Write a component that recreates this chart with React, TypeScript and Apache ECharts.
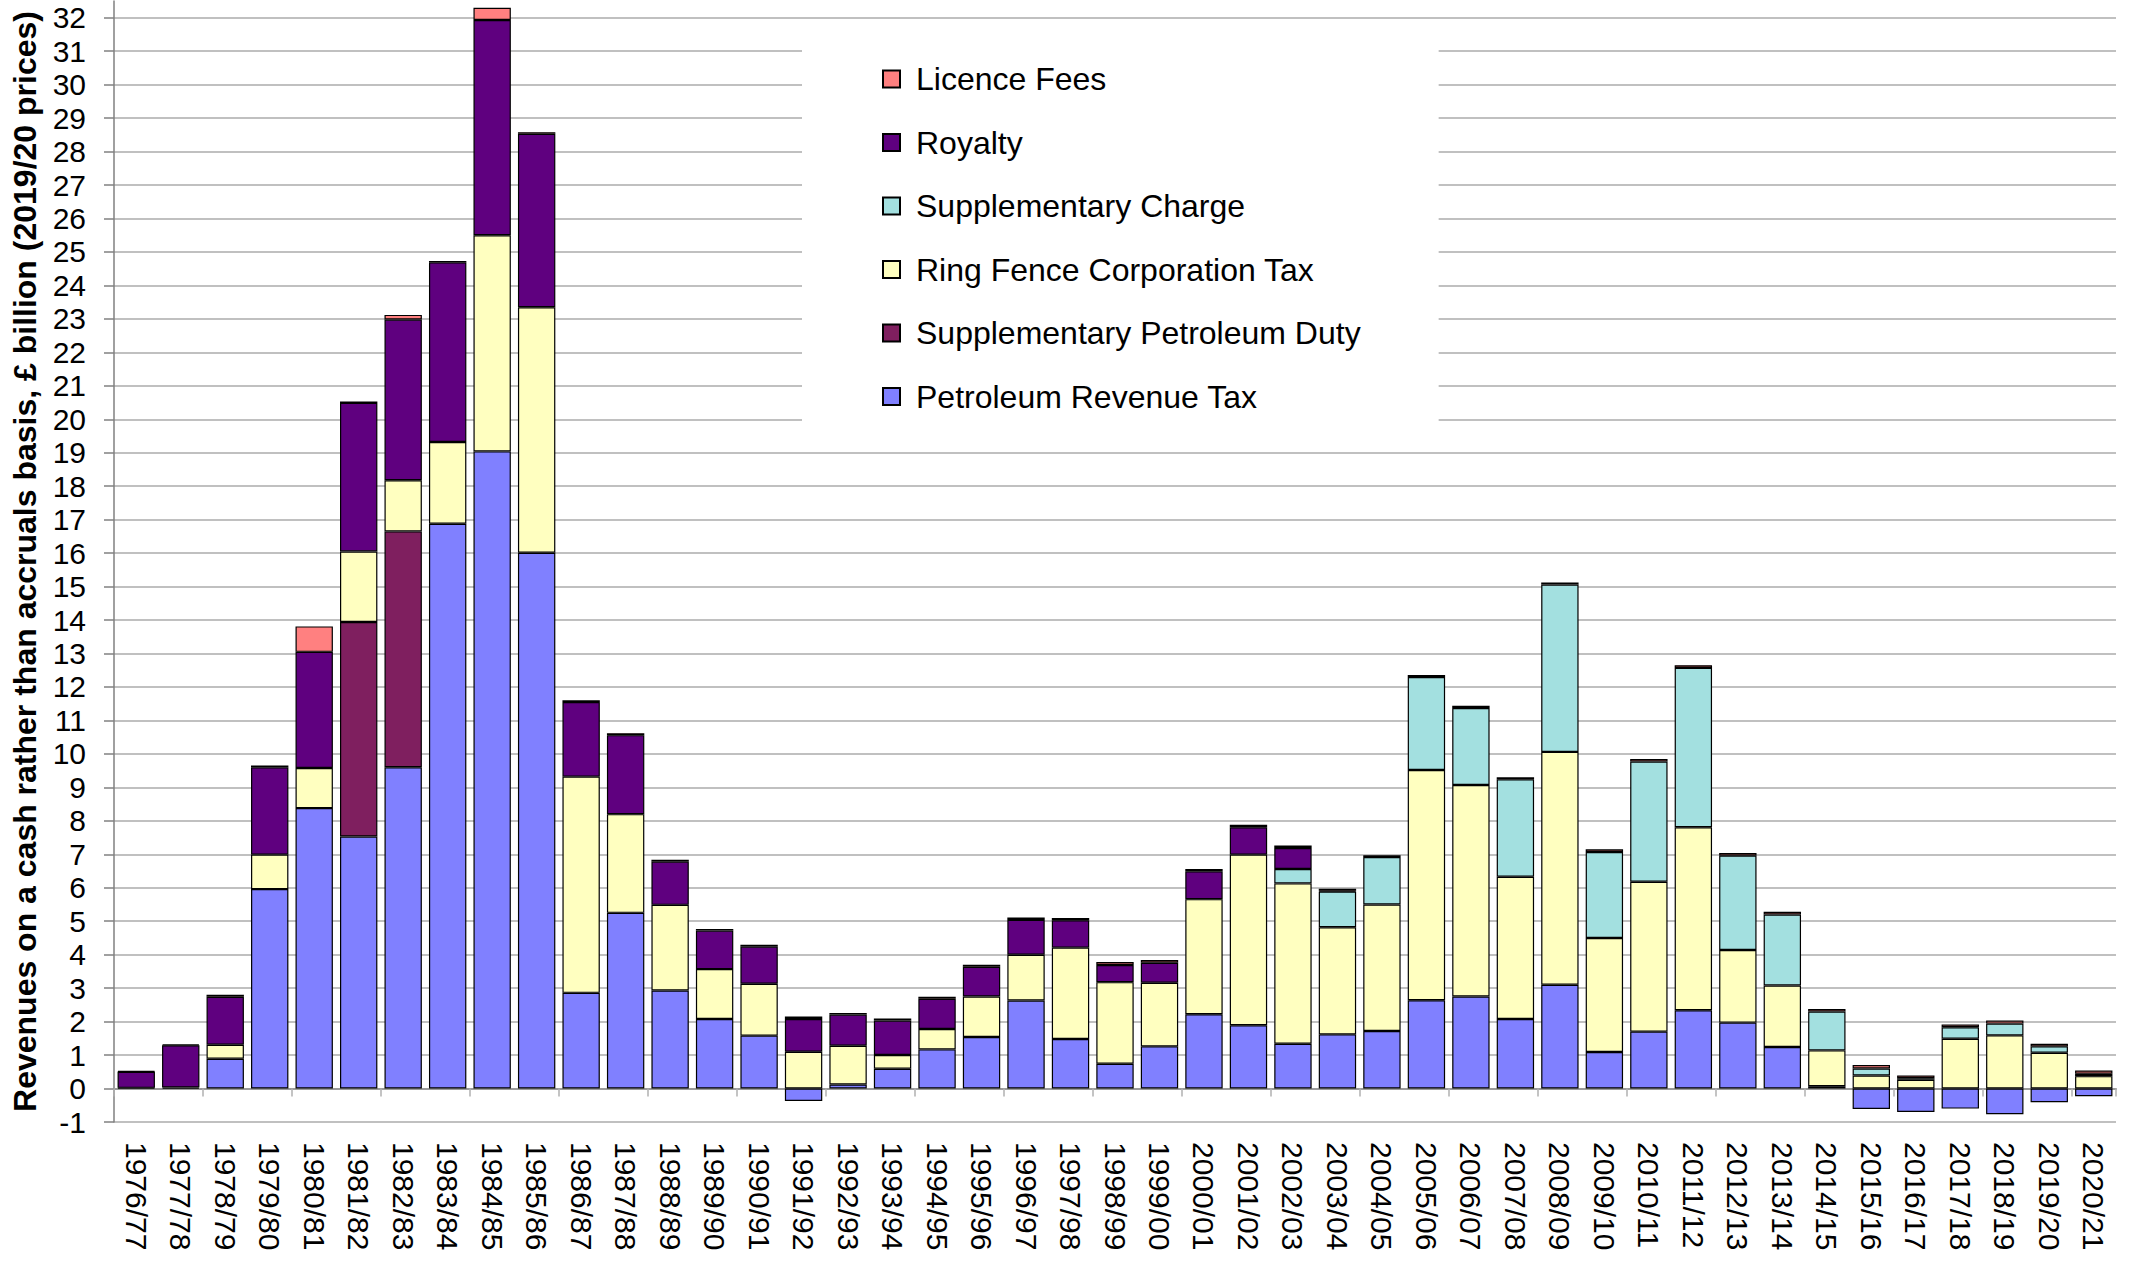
import React, { useEffect, useRef } from "react";
import * as echarts from "echarts";

const categories = [
  "1976/77", "1977/78", "1978/79", "1979/80", "1980/81", "1981/82", "1982/83", "1983/84", "1984/85",
  "1985/86", "1986/87", "1987/88", "1988/89", "1989/90", "1990/91", "1991/92", "1992/93", "1993/94",
  "1994/95", "1995/96", "1996/97", "1997/98", "1998/99", "1999/00", "2000/01", "2001/02", "2002/03",
  "2003/04", "2004/05", "2005/06", "2006/07", "2007/08", "2008/09", "2009/10", "2010/11", "2011/12",
  "2012/13", "2013/14", "2014/15", "2015/16", "2016/17", "2017/18", "2018/19", "2019/20", "2020/21",
];

const petroleumRevenueTax = [
  0.02, 0.03, 0.89, 5.96, 8.38, 7.53, 9.6, 16.88, 19.04,
  16.01, 2.86, 5.25, 2.93, 2.08, 1.58, -0.37, 0.12, 0.59,
  1.17, 1.54, 2.63, 1.48, 0.74, 1.26, 2.22, 1.89, 1.34,
  1.62, 1.72, 2.64, 2.75, 2.08, 3.1, 1.09, 1.7, 2.34,
  1.97, 1.24, 0.07, -0.61, -0.7, -0.6, -0.77, -0.41, -0.23,
];

const supplementaryPetroleumDuty = [
  null, null, null, null, null, 6.41, 7.05, null, null,
  null, null, null, null, null, null, null, null, null,
  null, null, null, null, null, null, null, null, null,
  null, null, null, null, null, null, null, null, null,
  null, null, null, null, null, null, null, null, null,
];

const ringFenceCorporationTax = [
  null, null, 0.42, 1.03, 1.2, 2.11, 1.53, 2.44, 6.46,
  7.34, 6.46, 2.95, 2.56, 1.49, 1.55, 1.1, 1.16, 0.41,
  0.61, 1.21, 1.37, 2.73, 2.44, 1.9, 3.44, 5.1, 4.79,
  3.2, 3.78, 6.88, 6.32, 4.25, 6.96, 3.41, 4.48, 5.47,
  2.17, 1.84, 1.07, 0.39, 0.26, 1.49, 1.59, 1.07, 0.37,
];

const supplementaryCharge = [
  null, null, null, null, null, null, null, null, null,
  null, null, null, null, null, null, null, null, null,
  null, null, null, null, null, null, null, null, 0.43,
  1.07, 1.42, 2.78, 2.3, 2.91, 5.0, 2.57, 3.59, 4.76,
  2.82, 2.12, 1.16, 0.21, 0.05, 0.34, 0.35, 0.19, 0.07,
];

const royalty = [
  0.48, 1.26, 1.43, 2.61, 3.47, 4.44, 4.8, 5.37, 6.43,
  5.18, 2.23, 2.36, 1.29, 1.15, 1.11, 0.98, 0.93, 1.03,
  0.9, 0.89, 1.04, 0.82, 0.51, 0.6, 0.83, 0.82, 0.63,
  0.02, null, null, null, null, null, null, null, null,
  null, null, null, null, null, null, null, null, null,
];

const licenceFees = [
  0.02, 0.03, 0.06, 0.05, 0.76, 0.04, 0.14, 0.04, 0.37,
  0.05, 0.05, 0.06, 0.06, 0.05, 0.06, 0.07, 0.05, 0.06,
  0.06, 0.06, 0.07, 0.07, 0.09, 0.08, 0.07, 0.07, 0.07,
  0.06, 0.05, 0.06, 0.07, 0.06, 0.06, 0.08, 0.08, 0.08,
  0.08, 0.08, 0.08, 0.1, 0.08, 0.08, 0.09, 0.08, 0.1,
];

const seriesNames = [
  "Petroleum Revenue Tax",
  "Supplementary Petroleum Duty",
  "Ring Fence Corporation Tax",
  "Supplementary Charge",
  "Royalty",
  "Licence Fees",
];
const seriesColors = ["#8080FF", "#7F1F5F", "#FFFFC0", "#A3E0E0", "#5F007F", "#FF8080"];
const seriesData = [
  petroleumRevenueTax,
  supplementaryPetroleumDuty,
  ringFenceCorporationTax,
  supplementaryCharge,
  royalty,
  licenceFees,
];
const legendOrder = [
  "Licence Fees",
  "Royalty",
  "Supplementary Charge",
  "Ring Fence Corporation Tax",
  "Supplementary Petroleum Duty",
  "Petroleum Revenue Tax",
];

const yTitle = "Revenues on a cash rather than accruals basis, £ billion (2019/20 prices)";
const FONT = "'Liberation Sans', Arial, sans-serif";

export default function App() {
  const ref = useRef<HTMLDivElement>(null);
  useEffect(() => {
    const chart = echarts.init(ref.current!, null, { renderer: "svg" });
    chart.setOption({
      animation: false,
      backgroundColor: "#ffffff",
      textStyle: { fontFamily: FONT },
      grid: { left: 114, right: 22, top: 1, bottom: 139, containLabel: false },
      legend: {
        data: legendOrder,
        orient: "vertical",
        left: 802,
        top: 27,
        icon: "rect",
        itemWidth: 17,
        itemHeight: 17,
        itemGap: 31.5,
        backgroundColor: "#ffffff",
        padding: [36, 78, 23, 80],
        textStyle: { fontSize: 32, lineHeight: 32, color: "#000", fontFamily: FONT, padding: [0, 0, 0, 11] },
      },
      xAxis: [
        {
          type: "category",
          data: categories,
          position: "bottom",
          axisLine: { show: false, onZero: false },
          axisTick: { show: false },
          axisLabel: {
            rotate: -90,
            fontSize: 30,
            color: "#000",
            margin: 20,
            interval: 0,
            fontFamily: FONT,
          },
        },
        {
          type: "category",
          data: categories,
          position: "bottom",
          axisLine: { show: true, onZero: true, lineStyle: { color: "#9a9a9a", width: 2 } },
          axisTick: { show: true, length: 8, lineStyle: { color: "#b0b0b0", width: 1.5 } },
          axisLabel: { show: false },
        },
      ],
      yAxis: {
        type: "value",
        min: -1,
        max: 32.5,
        interval: 1,
        name: yTitle,
        nameLocation: "middle",
        nameRotate: 90,
        nameGap: 73,
        nameTextStyle: { fontSize: 32, fontWeight: "bold", color: "#000", fontFamily: FONT },
        axisLine: { show: true, lineStyle: { color: "#808080", width: 1.5 } },
        axisTick: { show: true, length: 10, lineStyle: { color: "#808080", width: 1.5 } },
        axisLabel: { fontSize: 30, color: "#000", margin: 28, showMaxLabel: false, fontFamily: FONT },
        splitLine: { show: true, showMaxLine: false, lineStyle: { color: "#C0C0C0", width: 2 } },
      },
      series: seriesNames.map((name, i) => ({
        name,
        type: "bar",
        stack: "total",
        xAxisIndex: 0,
        barCategoryGap: "16%",
        data: seriesData[i],
        itemStyle: { color: seriesColors[i], borderColor: "#000", borderWidth: 1.2 },
      })),
    });
    return () => chart.dispose();
  }, []);
  return (
    <div
      ref={ref}
      style={{ position: "fixed", left: 0, top: 0, width: 2138, height: 1261, background: "#fff" }}
    />
  );
}
